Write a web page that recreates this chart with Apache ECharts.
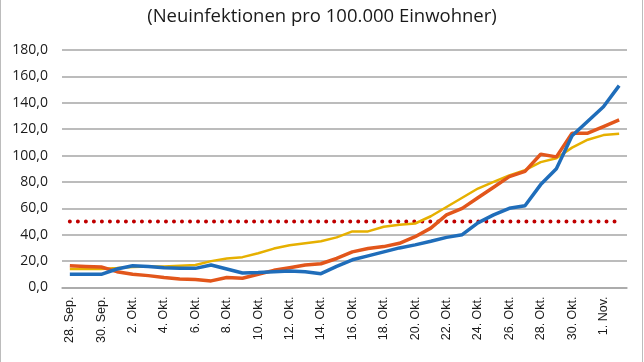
<!DOCTYPE html>
<html>
<head>
<meta charset="utf-8">
<script src="https://cdn.jsdelivr.net/npm/echarts@6/dist/echarts.min.js"></script>
<style>
html,body{margin:0;padding:0;background:#fff;}
#c{width:644px;height:362px;}
</style>
</head>
<body>
<div id="c"></div>
<script>
const titleText = "(Neuinfektionen pro 100.000 Einwohner)";
const categories = [
  "28. Sep.","29. Sep.","30. Sep.","1. Okt.","2. Okt.","3. Okt.","4. Okt.","5. Okt.","6. Okt.","7. Okt.",
  "8. Okt.","9. Okt.","10. Okt.","11. Okt.","12. Okt.","13. Okt.","14. Okt.","15. Okt.","16. Okt.","17. Okt.",
  "18. Okt.","19. Okt.","20. Okt.","21. Okt.","22. Okt.","23. Okt.","24. Okt.","25. Okt.","26. Okt.","27. Okt.",
  "28. Okt.","29. Okt.","30. Okt.","31. Okt.","1. Nov.","2. Nov."
];
const blueValues = [
  10,10,10,14,16.5,16,15,14.5,14.5,17,
  14,11,11.4,12,12.5,12,10.5,16,21,24,
  27,30,32.3,35,38,40,49,55,60,62,
  78,90,115,126,137,153
];
const orangeValues = [
  16.5,16,15.5,12,10,9,7.5,6.5,6,5,
  7.6,7,10,13,15,17,18,22,27,29.5,
  31,33.5,38.5,45,55,60,68,76,84,88,
  101,99,117,117,122,127
];
const yellowValues = [
  14,14,14,14.7,15.5,16,16,16.5,17,20,
  22,23,26,29.5,32,33.5,35,38,42.5,42.5,
  46,47.5,48.5,54,61,68,75,80,85,89,
  95,98,106,112,115.5,116.5
];
const thresholdValue = 50;
const thresholdValues = categories.map(() => thresholdValue);
const yTicks = { min: 0, max: 180, interval: 20 };

const chart = echarts.init(document.getElementById('c'), null, {renderer: 'canvas'});
const font = "'Open Sans', 'Noto Sans', sans-serif";
chart.setOption({
  animation: false,
  backgroundColor: '#fff',
  title: {
    text: titleText, left: 'center', top: 2,
    textStyle: {fontFamily: font, fontSize: 18.5, fontWeight: 'normal', color: '#1a1a1a'}
  },
  graphic: [{
    type: 'rect', shape: {x: 0.5, y: -2, width: 642, height: 366}, silent: true,
    style: {fill: 'none', stroke: '#bcbcbc', lineWidth: 1}
  }],
  grid: {left: 62, right: 17, top: 50, bottom: 74.5},
  xAxis: {
    type: 'category', data: categories, boundaryGap: true,
    axisLine: {show: true, lineStyle: {color: '#a6a6a6', width: 1.5}},
    axisTick: {show: false},
    axisLabel: {interval: 1, rotate: 90, margin: 9, fontFamily: 'Liberation Sans, Arial, sans-serif', fontSize: 12.5, color: '#1a1a1a'}
  },
  yAxis: {
    type: 'value', min: yTicks.min, max: yTicks.max, interval: yTicks.interval,
    axisLine: {show: false}, axisTick: {show: false},
    splitLine: {lineStyle: {color: '#a6a6a6', width: 1.5}},
    axisLabel: {margin: 14, fontFamily: font, fontSize: 14, color: '#1a1a1a',
      formatter: v => v.toFixed(1).replace('.', ',')}
  },
  series: [
    {type: 'line', data: thresholdValues, symbol: 'none', z: 1,
      lineStyle: {color: '#C00000', width: 4, type: [0.01, 8], cap: 'round'}},
    {type: 'line', data: yellowValues, symbol: 'none', z: 2,
      lineStyle: {color: '#E6B000', width: 2.5}},
    {type: 'line', data: orangeValues, symbol: 'none', z: 3,
      lineStyle: {color: '#E2561B', width: 3.5}},
    {type: 'line', data: blueValues, symbol: 'none', z: 4,
      lineStyle: {color: '#1F6DBA', width: 3.5}}
  ]
});
</script>
</body>
</html>
